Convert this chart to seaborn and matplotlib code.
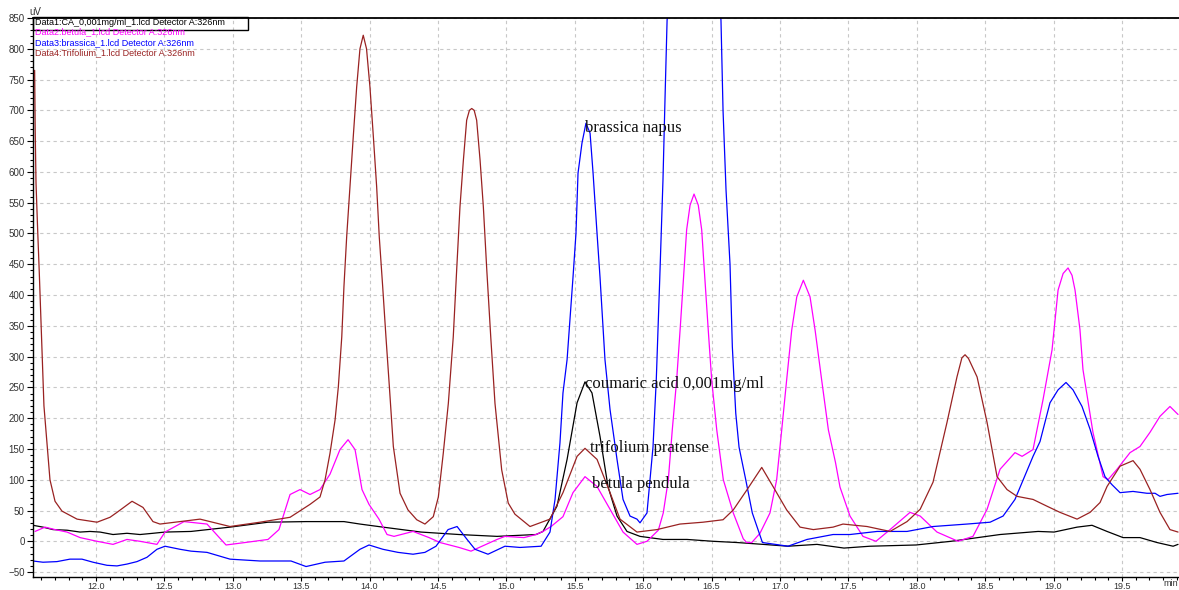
import matplotlib
matplotlib.use("Agg")
import matplotlib.pyplot as plt
from matplotlib.ticker import MultipleLocator
from matplotlib.patches import Rectangle
import seaborn as sns
import pandas as pd

# ------------------------------------------------------------
# 数据：四条色谱曲线 (保留时间 min, 信号 uV)
# ------------------------------------------------------------
ca_time = [11.540, 11.613, 11.686, 11.789, 11.884, 11.957, 12.030, 12.125, 12.227, 12.322,
           12.417, 12.505, 12.695, 12.980, 13.258, 13.536, 13.813, 13.930, 14.098, 14.376,
           14.654, 14.932, 15.217, 15.268, 15.370, 15.444, 15.517, 15.575, 15.626, 15.685,
           15.743, 15.809, 15.882, 15.977, 16.145, 16.321, 16.511, 16.686, 16.876, 17.059,
           17.271, 17.468, 17.658, 17.995, 18.251, 18.609, 18.887, 19.004, 19.172, 19.281,
           19.391, 19.508, 19.632, 19.756, 19.874, 19.910]
ca_signal = [26, 23, 19, 18, 15, 16, 15, 11, 13, 11,
             13, 15, 16, 23, 31, 32, 32, 28, 23, 15,
             11, 8, 11, 16, 57, 133, 225, 259, 241, 170,
             89, 41, 16, 8, 3, 3, 0, -2, -5, -8,
             -5, -11, -8, -6, 0, 11, 16, 15, 23, 26,
             16, 6, 6, -2, -8, -5]

betula_time = [11.555, 11.628, 11.701, 11.789, 11.884, 12.008, 12.125, 12.227, 12.322, 12.446,
               12.505, 12.644, 12.812, 12.951, 13.090, 13.258, 13.338, 13.419, 13.492, 13.565,
               13.638, 13.711, 13.784, 13.843, 13.894, 13.945, 13.996, 14.069, 14.128, 14.179,
               14.318, 14.435, 14.515, 14.654, 14.742, 14.822, 14.932, 14.990, 15.129, 15.217,
               15.268, 15.327, 15.414, 15.487, 15.575, 15.663, 15.758, 15.853, 15.955, 16.028,
               16.111, 16.147, 16.184, 16.213, 16.245, 16.270, 16.294, 16.318, 16.343, 16.372,
               16.403, 16.428, 16.452, 16.476, 16.501, 16.538, 16.586, 16.659, 16.732, 16.757,
               16.794, 16.854, 16.927, 16.976, 17.013, 17.049, 17.086, 17.123, 17.171, 17.220,
               17.257, 17.305, 17.354, 17.406, 17.439, 17.512, 17.607, 17.702, 17.805, 17.951,
               18.025, 18.148, 18.302, 18.411, 18.514, 18.609, 18.718, 18.770, 18.850, 18.923,
               18.989, 19.033, 19.070, 19.106, 19.135, 19.157, 19.193, 19.215, 19.288, 19.362,
               19.398, 19.464, 19.559, 19.632, 19.705, 19.778, 19.851, 19.910]
betula_signal = [16, 23, 19, 15, 6, 0, -5, 3, 0, -5,
                 15, 32, 28, -6, -2, 3, 19, 76, 84, 76,
                 84, 109, 149, 165, 149, 84, 60, 36, 11, 8,
                 16, 6, -2, -10, -16, -8, 3, 8, 6, 11,
                 16, 24, 40, 79, 105, 89, 52, 15, -5, 0,
                 18, 46, 100, 181, 262, 343, 424, 506, 546, 564,
                 546, 506, 424, 343, 262, 181, 100, 46, 4, -2,
                 -2, 13, 46, 100, 181, 262, 343, 397, 424, 397,
                 343, 262, 181, 128, 88, 41, 8, 0, 19, 47,
                 41, 15, 0, 8, 52, 117, 144, 138, 149, 230,
                 311, 408, 435, 444, 432, 408, 344, 279, 177, 105,
                 100, 117, 144, 154, 177, 203, 219, 206]

brassica_time = [11.540, 11.613, 11.715, 11.810, 11.898, 11.979, 12.081, 12.154, 12.227, 12.300,
                 12.373, 12.446, 12.505, 12.615, 12.695, 12.812, 12.980, 13.199, 13.426, 13.536,
                 13.675, 13.813, 13.930, 13.996, 14.098, 14.208, 14.318, 14.405, 14.486, 14.574,
                 14.640, 14.713, 14.771, 14.866, 14.990, 15.100, 15.254, 15.319, 15.356, 15.392,
                 15.414, 15.444, 15.487, 15.509, 15.524, 15.553, 15.582, 15.612, 15.634, 15.663,
                 15.685, 15.721, 15.758, 15.809, 15.853, 15.904, 15.955, 15.977, 16.028, 16.072,
                 16.096, 16.121, 16.145, 16.160, 16.175, 16.372, 16.569, 16.584, 16.606, 16.635,
                 16.652, 16.677, 16.701, 16.750, 16.798, 16.872, 17.059, 17.198, 17.388, 17.512,
                 17.710, 17.929, 18.119, 18.367, 18.536, 18.631, 18.718, 18.850, 18.901, 18.974,
                 19.033, 19.091, 19.142, 19.208, 19.267, 19.325, 19.376, 19.427, 19.486, 19.581,
                 19.683, 19.742, 19.778, 19.829, 19.910]
brassica_signal = [-32, -34, -33, -29, -29, -34, -39, -40, -37, -33,
                   -26, -13, -8, -13, -16, -18, -29, -32, -32, -41,
                   -34, -32, -13, -6, -13, -18, -21, -18, -8, 19,
                   24, 3, -13, -21, -8, -10, -8, 15, 68, 160,
                   241, 295, 428, 500, 598, 647, 679, 663, 598, 500,
                   428, 295, 214, 133, 68, 41, 36, 30, 46, 153,
                   262, 424, 587, 720, 846, 1450, 846, 700, 570, 450,
                   316, 208, 153, 100, 46, -2, -8, 3, 11, 11,
                   16, 16, 24, 28, 31, 41, 68, 138, 162, 225,
                   246, 258, 246, 219, 182, 138, 105, 92, 79, 81,
                   78, 78, 73, 76, 78]

trifolium_time = [11.552, 11.556, 11.562, 11.574, 11.586, 11.620, 11.664, 11.701, 11.752, 11.862,
                  12.008, 12.103, 12.154, 12.264, 12.344, 12.417, 12.468, 12.761, 12.980, 13.199,
                  13.419, 13.565, 13.638, 13.675, 13.711, 13.748, 13.772, 13.797, 13.813, 13.833,
                  13.857, 13.881, 13.906, 13.930, 13.954, 13.978, 14.003, 14.028, 14.052, 14.071,
                  14.096, 14.120, 14.145, 14.174, 14.223, 14.281, 14.345, 14.405, 14.466, 14.503,
                  14.539, 14.576, 14.612, 14.637, 14.661, 14.686, 14.710, 14.730, 14.747, 14.765,
                  14.783, 14.808, 14.832, 14.857, 14.886, 14.917, 14.966, 15.014, 15.063, 15.173,
                  15.319, 15.414, 15.517, 15.575, 15.663, 15.758, 15.831, 15.955, 16.101, 16.269,
                  16.437, 16.584, 16.659, 16.757, 16.867, 16.952, 17.049, 17.147, 17.244, 17.388,
                  17.461, 17.637, 17.805, 17.929, 18.025, 18.119, 18.221, 18.294, 18.330, 18.353,
                  18.378, 18.441, 18.514, 18.587, 18.660, 18.733, 18.850, 18.952, 19.047, 19.172,
                  19.267, 19.340, 19.391, 19.486, 19.581, 19.632, 19.705, 19.778, 19.851, 19.910]
trifolium_signal = [765, 668, 582, 506, 436, 220, 100, 65, 49, 36,
                    31, 39, 47, 65, 55, 32, 28, 36, 24, 31,
                    39, 60, 72, 100, 143, 197, 251, 332, 414, 495,
                    576, 657, 738, 800, 822, 800, 738, 657, 576, 495,
                    414, 332, 251, 154, 78, 51, 35, 28, 40, 72,
                    143, 224, 332, 441, 543, 619, 684, 700, 703, 700,
                    684, 619, 543, 441, 332, 224, 116, 62, 44, 24,
                    36, 79, 138, 151, 133, 79, 36, 15, 19, 28,
                    31, 35, 51, 83, 120, 88, 51, 23, 19, 23,
                    28, 24, 16, 32, 52, 96, 193, 267, 298, 303,
                    297, 267, 193, 105, 84, 73, 68, 57, 47, 36,
                    47, 63, 89, 122, 131, 117, 84, 47, 19, 15]

samples = ["CA", "betula", "brassica", "Trifolium"]
colors = ["#000000", "#ff00ff", "#0000ff", "#992222"]
legend_lines = ["Data1:CA_0,001mg/ml_1.lcd Detector A:326nm",
                "Data2:betula_1.lcd Detector A:326nm",
                "Data3:brassica_1.lcd Detector A:326nm",
                "Data4:Trifolium_1.lcd Detector A:326nm"]

# 峰标注
peak_labels = ["brassica napus", "coumaric acid 0,001mg/ml", "trifolium pratense", "betula pendula"]
label_time = [15.575, 15.575, 15.612, 15.626]
label_signal = [671, 255, 151, 93]

x_ticks = [12.0, 12.5, 13.0, 13.5, 14.0, 14.5, 15.0, 15.5, 16.0, 16.5, 17.0, 17.5, 18.0, 18.5, 19.0, 19.5]
x_tick_labels = ["12.0", "12.5", "13.0", "13.5", "14.0", "14.5", "15.0", "15.5",
                 "16.0", "16.5", "17.0", "17.5", "18.0", "18.5", "19.0", "19.5"]

# 组装长表
frames = []
for name, t, s in [("CA", ca_time, ca_signal), ("betula", betula_time, betula_signal),
                   ("brassica", brassica_time, brassica_signal),
                   ("Trifolium", trifolium_time, trifolium_signal)]:
    frames.append(pd.DataFrame({"time": t, "signal": s, "sample": name}))
df = pd.concat(frames, ignore_index=True)

# ------------------------------------------------------------
# 绘图
# ------------------------------------------------------------
sns.set_style("white")
plt.rcParams['font.family'] = ['Liberation Sans', 'DejaVu Sans']

fig = plt.figure(figsize=(11.79, 5.90), dpi=100)
ax = fig.add_axes([33 / 1179, 13 / 590, 1146 / 1179, 559 / 590])

sns.lineplot(data=df, x="time", y="signal", hue="sample", hue_order=samples,
             palette=colors, estimator=None, sort=False, legend=False,
             linewidth=0.9, ax=ax)

ax.set_xlim(11.54, 19.917)
ax.set_ylim(-58, 850)
ax.xaxis.set_minor_locator(MultipleLocator(0.1))
ax.yaxis.set_minor_locator(MultipleLocator(10))
ax.set_xticks(x_ticks)
ax.set_xticklabels(x_tick_labels)
ax.set_yticks(range(-50, 851, 50))
ax.tick_params(axis="both", which="major", direction="out", length=4, width=0.8,
               labelsize=7, labelcolor="#333333", color="black", pad=2)
ax.tick_params(axis="both", which="minor", direction="out", length=2.5, width=0.8, color="black")
ax.tick_params(axis="x", which="major", length=3, pad=0.5, labelsize=6.5)
ax.tick_params(axis="x", which="both", bottom=True)
ax.tick_params(axis="y", which="both", left=True)
ax.set_xlabel("")
ax.set_ylabel("")

ax.grid(True, which="major", color="#c8c8c8", linestyle=(0, (3, 3)), linewidth=0.8)
ax.set_axisbelow(True)

for side in ["left", "bottom", "top"]:
    ax.spines[side].set_color("black")
    ax.spines[side].set_linewidth(1.0)
ax.spines["top"].set_linewidth(1.3)
ax.spines["right"].set_visible(False)

# 图例文本与第一行的方框
legend_y = [0.9928, 0.975, 0.9553, 0.9374]
for txt, c, yy in zip(legend_lines, colors, legend_y):
    ax.text(0.002, yy, txt, transform=ax.transAxes, color=c, fontsize=6.5,
            ha="left", va="center")
ax.add_patch(Rectangle((0.0, 0.979), 0.1876, 0.023, transform=ax.transAxes,
                       fill=False, edgecolor="black", linewidth=1.0, clip_on=False))

# 峰标注（衬线字体）
for txt, tx, ty in zip(peak_labels, label_time, label_signal):
    ax.text(tx, ty, txt, fontsize=12, ha="left", va="center", color="#111111",
            family=["Liberation Serif", "DejaVu Serif"])

# 单位
fig.text(29 / 1179, 1 - 12 / 590, "uV", fontsize=7, color="#333333", ha="left", va="center")
fig.text(1178 / 1179, 1 - 584 / 590, "min", fontsize=6.5, color="#333333", ha="right", va="center")

plt.savefig("out.png", dpi=100)
